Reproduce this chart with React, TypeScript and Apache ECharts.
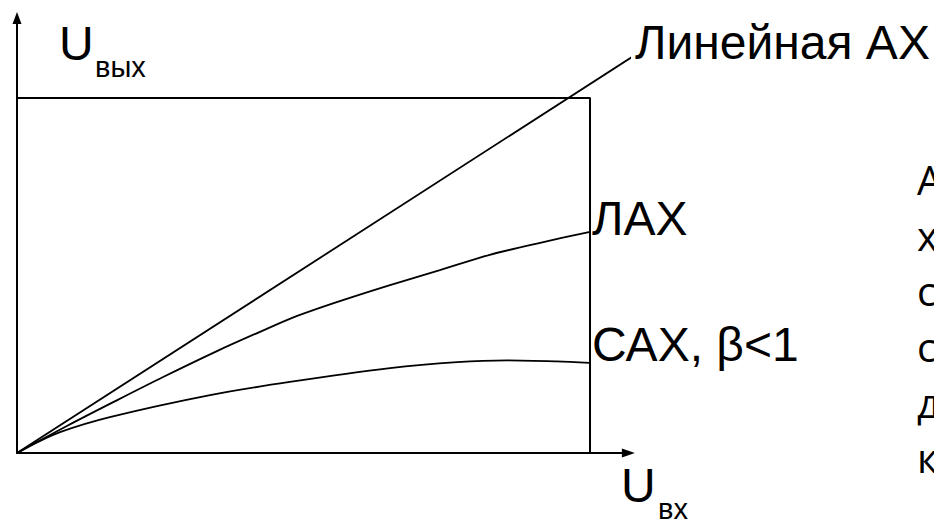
import React, { useEffect, useRef } from "react";
import * as echarts from "echarts";

// Reference points (units: rectangle = 10 x 10)
const linearX = [0, 10.73];
const linearY = [0, 11.15];

const lahX = [0, 0.87, 1.75, 2.55, 3.49, 4.28, 4.89, 5.58, 6.51, 7.38, 8.25, 9.13, 10];
const lahY = [0, 0.76, 1.49, 2.14, 2.87, 3.44, 3.86, 4.25, 4.73, 5.15, 5.58, 5.92, 6.23];

const sahX = [0, 0.35, 0.75, 1.62, 3.37, 4.76, 6.51, 7.68, 8.55, 9.42, 10];
const sahY = [0, 0.3, 0.59, 1.01, 1.63, 2.0, 2.39, 2.56, 2.61, 2.58, 2.54];

const rectX = [0, 10, 10];
const rectY = [10, 10, 0];

const seriesNames = ["Линейная АХ", "ЛАХ", "САХ, β<1"];
const sideLetters = ["А", "х", "с", "с", "д", "к"];

const X_MAX = 10.67;
const Y_MAX = 12.25;

const pairs = (xs: number[], ys: number[]) => xs.map((x, i) => [x, ys[i]]);

export default function App() {
  const ref = useRef<HTMLDivElement>(null);

  useEffect(() => {
    if (!ref.current) return;
    const chart = echarts.init(ref.current, null, { renderer: "svg" });
    const font = "Liberation Sans, Arial, sans-serif";
    const lineStyle = { color: "#000", width: 2 };
    const lbl = (text: string, dy: number, dist: number) => ({
      show: true,
      formatter: text,
      color: "#000",
      fontSize: 48,
      fontFamily: font,
      align: "left",
      verticalAlign: "middle",
      distance: dist,
      offset: [0, dy],
    });

    const baselines = [195, 251, 306, 362, 418, 473];

    chart.setOption({
      animation: false,
      backgroundColor: "#fff",
      grid: { left: 17, top: 18, right: 305.6, bottom: 67, containLabel: false },
      xAxis: {
        type: "value",
        min: 0,
        max: X_MAX,
        axisLine: {
          show: true,
          onZero: false,
          symbol: ["none", "triangle"],
          symbolSize: [9, 13],
          lineStyle: { color: "#000", width: 2 },
        },
        axisTick: { show: false },
        axisLabel: { show: false },
        splitLine: { show: false },
      },
      yAxis: {
        type: "value",
        min: 0,
        max: Y_MAX,
        axisLine: {
          show: true,
          onZero: false,
          symbol: ["none", "triangle"],
          symbolSize: [9, 12],
          lineStyle: { color: "#000", width: 2 },
        },
        axisTick: { show: false },
        axisLabel: { show: false },
        splitLine: { show: false },
      },
      series: [
        {
          type: "line",
          data: pairs(rectX, rectY),
          showSymbol: false,
          symbol: "none",
          lineStyle,
          silent: true,
        },
        {
          type: "line",
          name: seriesNames[0],
          data: pairs(linearX, linearY),
          showSymbol: false,
          symbol: "none",
          clip: false,
          lineStyle: { color: "#000", width: 1.8 },
          endLabel: lbl(seriesNames[0], -15.6, 4),
        },
        {
          type: "line",
          name: seriesNames[1],
          data: pairs(lahX, lahY),
          showSymbol: false,
          symbol: "none",
          smooth: 0.3,
          lineStyle: { color: "#000", width: 1.8 },
          endLabel: lbl(seriesNames[1], -13.6, 2),
        },
        {
          type: "line",
          name: seriesNames[2],
          data: pairs(sahX, sahY),
          showSymbol: false,
          symbol: "none",
          smooth: 0.3,
          lineStyle: { color: "#000", width: 1.8 },
          endLabel: lbl(seriesNames[2], -18.6, 2),
        },
      ],
      graphic: [
        { type: "text", x: 59, y: 43, style: { text: "U", font: `48px ${font}`, fill: "#000", textAlign: "left", textVerticalAlign: "middle" } },
        { type: "text", x: 95, y: 67, style: { text: "вых", font: `29px ${font}`, fill: "#000", textAlign: "left", textVerticalAlign: "middle" } },
        { type: "text", x: 621, y: 485, style: { text: "U", font: `48px ${font}`, fill: "#000", textAlign: "left", textVerticalAlign: "middle" } },
        { type: "text", x: 658, y: 509, style: { text: "вх", font: `29px ${font}`, fill: "#000", textAlign: "left", textVerticalAlign: "middle" } },
        ...sideLetters.map((t, i) => ({
          type: "text",
          x: 917,
          y: baselines[i] - 15.5,
          style: { text: t, font: `40px "Open Sans", sans-serif`, fill: "#000", textAlign: "left", textVerticalAlign: "middle" },
        })),
      ],
    });
    return () => chart.dispose();
  }, []);

  return (
    <div
      ref={ref}
      style={{ position: "fixed", left: 0, top: 0, width: 934, height: 520, background: "#fff" }}
    />
  );
}
